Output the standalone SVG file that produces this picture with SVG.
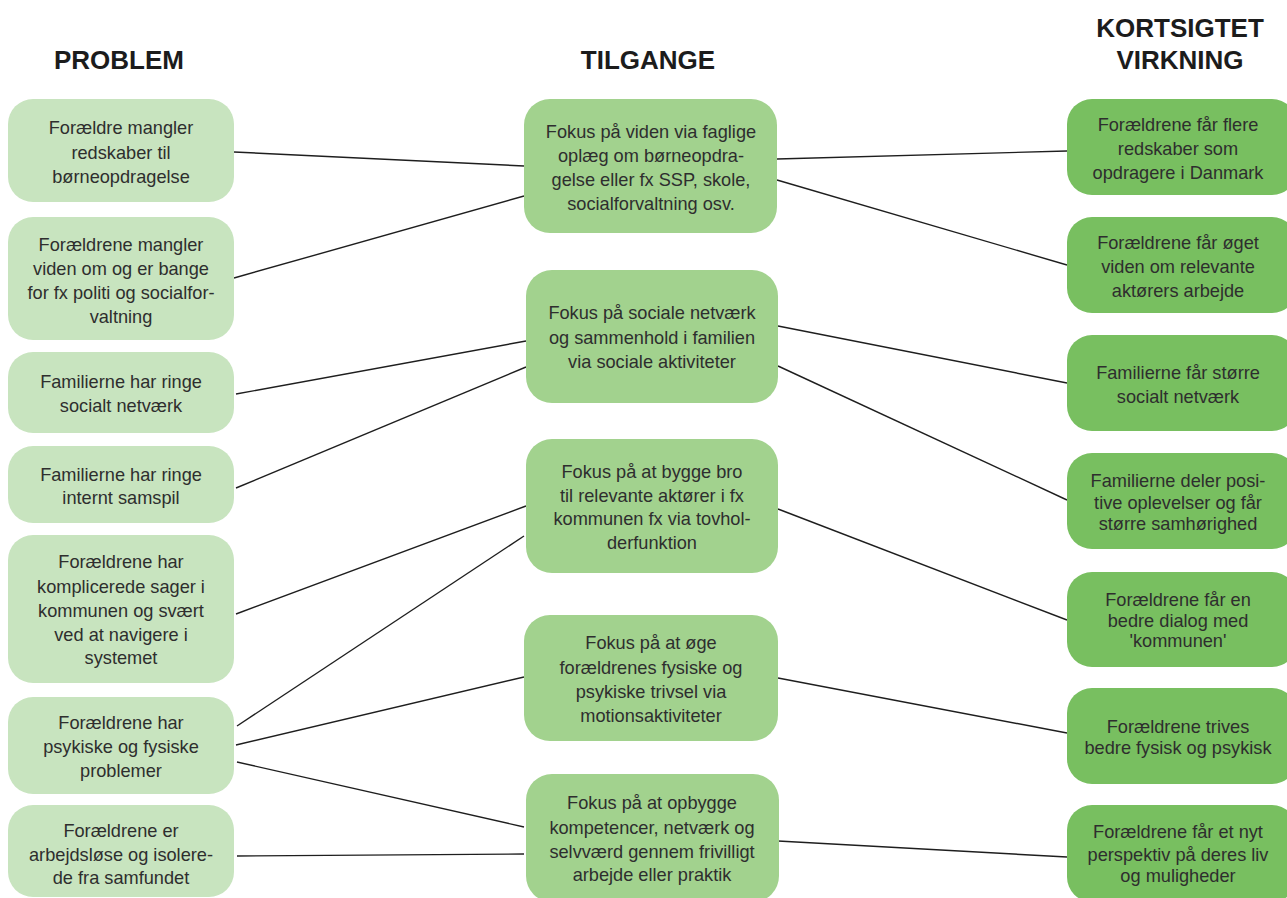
<svg xmlns="http://www.w3.org/2000/svg" width="1287" height="898" viewBox="0 0 1287 898">
<style>
.h{font-family:"Liberation Sans",Arial,sans-serif;font-weight:bold;font-size:26px;fill:#1c1c1c;text-anchor:middle}
.t{font-family:"Liberation Sans",Arial,sans-serif;font-size:18.2px;fill:#2e2e2e;text-anchor:middle}
.p{fill:#c8e4bf}
.a{fill:#a2d28e}
.v{fill:#78bf60}
.c line{stroke:#1e1e1e;stroke-width:1.4}
</style>
<rect width="1287" height="898" fill="#ffffff"/>
<g id="headers">
<text class="h" x="119" y="69">PROBLEM</text>
<text class="h" x="648" y="69">TILGANGE</text>
<text class="h" x="1180" y="37">KORTSIGTET</text>
<text class="h" x="1180" y="69">VIRKNING</text>
</g>
<g class="c" id="connectors">
<line x1="234" y1="152" x2="524" y2="166"/>
<line x1="234" y1="278" x2="524" y2="196"/>
<line x1="236" y1="394" x2="526" y2="341"/>
<line x1="236" y1="488" x2="526" y2="367"/>
<line x1="236" y1="614" x2="526" y2="506"/>
<line x1="237" y1="726" x2="524" y2="536"/>
<line x1="236" y1="745" x2="524" y2="677"/>
<line x1="237" y1="762" x2="524" y2="827"/>
<line x1="237" y1="856" x2="524" y2="854"/>
<line x1="777" y1="159" x2="1067" y2="151"/>
<line x1="777" y1="180" x2="1067" y2="265"/>
<line x1="778" y1="326" x2="1067" y2="383"/>
<line x1="778" y1="366" x2="1067" y2="500"/>
<line x1="778" y1="509" x2="1067" y2="620"/>
<line x1="778" y1="678" x2="1067" y2="733"/>
<line x1="778" y1="841" x2="1067" y2="857"/>
</g>
<g id="p1"><rect class="p" x="8" y="99" width="226" height="103" rx="25"/>
<text class="t" x="121" y="134">Forældre mangler</text><text class="t" x="121" y="159">redskaber til</text><text class="t" x="121" y="183">børneopdragelse</text></g>
<g id="p2"><rect class="p" x="8" y="217" width="226" height="123" rx="25"/>
<text class="t" x="121" y="251">Forældrene mangler</text><text class="t" x="121" y="275">viden om og er bange</text><text class="t" x="121" y="299">for fx politi og socialfor-</text><text class="t" x="121" y="323">valtning</text></g>
<g id="p3"><rect class="p" x="8" y="352" width="226" height="81" rx="25"/>
<text class="t" x="121" y="388">Familierne har ringe</text><text class="t" x="121" y="412">socialt netværk</text></g>
<g id="p4"><rect class="p" x="8" y="446" width="226" height="77" rx="25"/>
<text class="t" x="121" y="481">Familierne har ringe</text><text class="t" x="121" y="504">internt samspil</text></g>
<g id="p5"><rect class="p" x="8" y="535" width="226" height="148" rx="25"/>
<text class="t" x="121" y="568">Forældrene har</text><text class="t" x="121" y="593">komplicerede sager i</text><text class="t" x="121" y="617">kommunen og svært</text><text class="t" x="121" y="641">ved at navigere i</text><text class="t" x="121" y="664">systemet</text></g>
<g id="p6"><rect class="p" x="8" y="697" width="226" height="97" rx="25"/>
<text class="t" x="121" y="729">Forældrene har</text><text class="t" x="121" y="753">psykiske og fysiske</text><text class="t" x="121" y="777">problemer</text></g>
<g id="p7"><rect class="p" x="8" y="805" width="226" height="92" rx="25"/>
<text class="t" x="121" y="837">Forældrene er</text><text class="t" x="121" y="861">arbejdsløse og isolere-</text><text class="t" x="121" y="884">de fra samfundet</text></g>
<g id="a1"><rect class="a" x="524" y="99" width="253" height="134" rx="26"/>
<text class="t" x="651" y="138">Fokus på viden via faglige</text><text class="t" x="651" y="162">oplæg om børneopdra-</text><text class="t" x="651" y="186">gelse eller fx SSP, skole,</text><text class="t" x="651" y="210">socialforvaltning osv.</text></g>
<g id="a2"><rect class="a" x="526" y="270" width="252" height="133" rx="26"/>
<text class="t" x="652" y="319">Fokus på sociale netværk</text><text class="t" x="652" y="344">og sammenhold i familien</text><text class="t" x="652" y="368">via sociale aktiviteter</text></g>
<g id="a3"><rect class="a" x="526" y="439" width="252" height="134" rx="26"/>
<text class="t" x="652" y="478">Fokus på at bygge bro</text><text class="t" x="652" y="502">til relevante aktører i fx</text><text class="t" x="652" y="525">kommunen fx via tovhol-</text><text class="t" x="652" y="549">derfunktion</text></g>
<g id="a4"><rect class="a" x="524" y="615" width="254" height="126" rx="26"/>
<text class="t" x="651" y="649">Fokus på at øge</text><text class="t" x="651" y="674">forældrenes fysiske og</text><text class="t" x="651" y="698">psykiske trivsel via</text><text class="t" x="651" y="722">motionsaktiviteter</text></g>
<g id="a5"><rect class="a" x="526" y="774" width="253" height="128" rx="26"/>
<text class="t" x="652" y="809">Fokus på at opbygge</text><text class="t" x="652" y="834">kompetencer, netværk og</text><text class="t" x="652" y="858">selvværd gennem frivilligt</text><text class="t" x="652" y="881">arbejde eller praktik</text></g>
<g id="v1"><rect class="v" x="1067" y="99" width="230" height="96" rx="25"/>
<text class="t" x="1178" y="131">Forældrene får flere</text><text class="t" x="1178" y="155">redskaber som</text><text class="t" x="1178" y="179">opdragere i Danmark</text></g>
<g id="v2"><rect class="v" x="1067" y="217" width="230" height="96" rx="25"/>
<text class="t" x="1178" y="249">Forældrene får øget</text><text class="t" x="1178" y="273">viden om relevante</text><text class="t" x="1178" y="297">aktørers arbejde</text></g>
<g id="v3"><rect class="v" x="1067" y="335" width="230" height="96" rx="25"/>
<text class="t" x="1178" y="379">Familierne får større</text><text class="t" x="1178" y="403">socialt netværk</text></g>
<g id="v4"><rect class="v" x="1067" y="453" width="230" height="96" rx="25"/>
<text class="t" x="1178" y="487">Familierne deler posi-</text><text class="t" x="1178" y="509">tive oplevelser og får</text><text class="t" x="1178" y="530">større samhørighed</text></g>
<g id="v5"><rect class="v" x="1067" y="572" width="230" height="95" rx="25"/>
<text class="t" x="1178" y="606">Forældrene får en</text><text class="t" x="1178" y="627">bedre dialog med</text><text class="t" x="1178" y="647">'kommunen'</text></g>
<g id="v6"><rect class="v" x="1067" y="688" width="230" height="96" rx="25"/>
<text class="t" x="1178" y="733">Forældrene trives</text><text class="t" x="1178" y="754">bedre fysisk og psykisk</text></g>
<g id="v7"><rect class="v" x="1067" y="805" width="230" height="97" rx="25"/>
<text class="t" x="1178" y="838">Forældrene får et nyt</text><text class="t" x="1178" y="861">perspektiv på deres liv</text><text class="t" x="1178" y="882">og muligheder</text></g>
</svg>
